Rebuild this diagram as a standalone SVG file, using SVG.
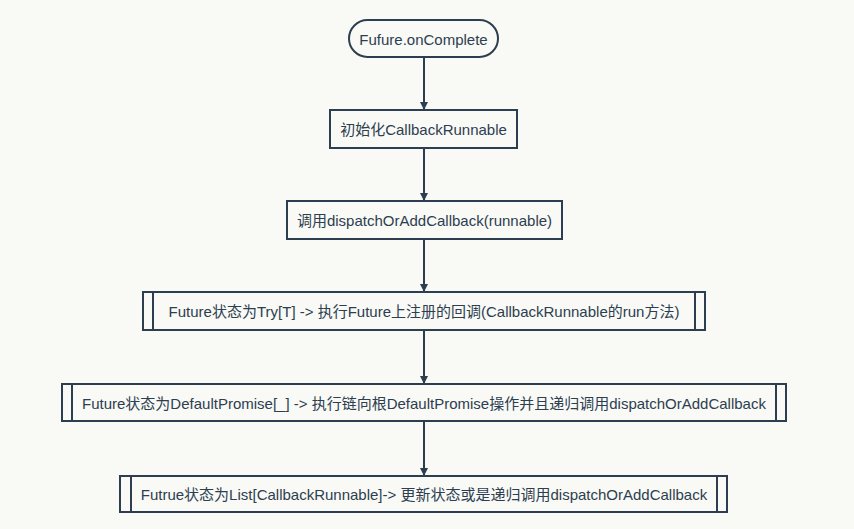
<svg xmlns="http://www.w3.org/2000/svg" width="854" height="529" viewBox="0 0 854 529">
<defs>
<style>
.n{fill:#f9f9f6;stroke:#2c3e50;stroke-width:2}
.t{font-family:"Liberation Sans","Noto Sans CJK SC",sans-serif;font-size:15px;fill:#2c3e50;text-anchor:middle;dominant-baseline:central}
.c{stroke:#2c3e50;stroke-width:2;fill:none;marker-end:url(#ah)}
</style>
<marker id="ah" viewBox="0 0 8 8" refX="7" refY="4" markerWidth="4" markerHeight="4" orient="auto" markerUnits="strokeWidth">
<path d="M0,0 L8,4 L0,8 z" fill="#2c3e50"/>
</marker>
</defs>
<rect width="854" height="529" fill="#f9f9f6"/>
<g id="connectors">
<line class="c" x1="424" y1="57" x2="424" y2="109"/>
<line class="c" x1="424" y1="148" x2="424" y2="200"/>
<line class="c" x1="424" y1="239" x2="424" y2="291"/>
<line class="c" x1="424" y1="330" x2="424" y2="383"/>
<line class="c" x1="424" y1="421" x2="424" y2="475"/>
</g>
<g id="start">
<rect class="n" x="349" y="20" width="149" height="37" rx="18.5"/>
<text class="t" x="423.5" y="39">Fufure.onComplete</text>
</g>
<g id="init">
<rect class="n" x="330" y="110" width="187" height="38"/>
<text class="t" x="423.5" y="129">初始化CallbackRunnable</text>
</g>
<g id="dispatch">
<rect class="n" x="287" y="201" width="275" height="38"/>
<text class="t" x="424.5" y="220">调用dispatchOrAddCallback(runnable)</text>
</g>
<g id="try">
<rect class="n" x="143" y="292" width="562" height="38"/>
<line class="n" x1="153" y1="292" x2="153" y2="330"/>
<line class="n" x1="695" y1="292" x2="695" y2="330"/>
<text class="t" x="424" y="311">Future状态为Try[T] -&gt; 执行Future上注册的回调(CallbackRunnable的run方法)</text>
</g>
<g id="promise">
<rect class="n" x="62" y="384" width="724" height="37"/>
<line class="n" x1="72" y1="384" x2="72" y2="421"/>
<line class="n" x1="776" y1="384" x2="776" y2="421"/>
<text class="t" x="424" y="403">Future状态为DefaultPromise[_] -&gt; 执行链向根DefaultPromise操作并且递归调用dispatchOrAddCallback</text>
</g>
<g id="list">
<rect class="n" x="120" y="476" width="607" height="36"/>
<line class="n" x1="131" y1="476" x2="131" y2="512"/>
<line class="n" x1="717" y1="476" x2="717" y2="512"/>
<text class="t" x="424" y="494">Futrue状态为List[CallbackRunnable]-&gt; 更新状态或是递归调用dispatchOrAddCallback</text>
</g>
</svg>
